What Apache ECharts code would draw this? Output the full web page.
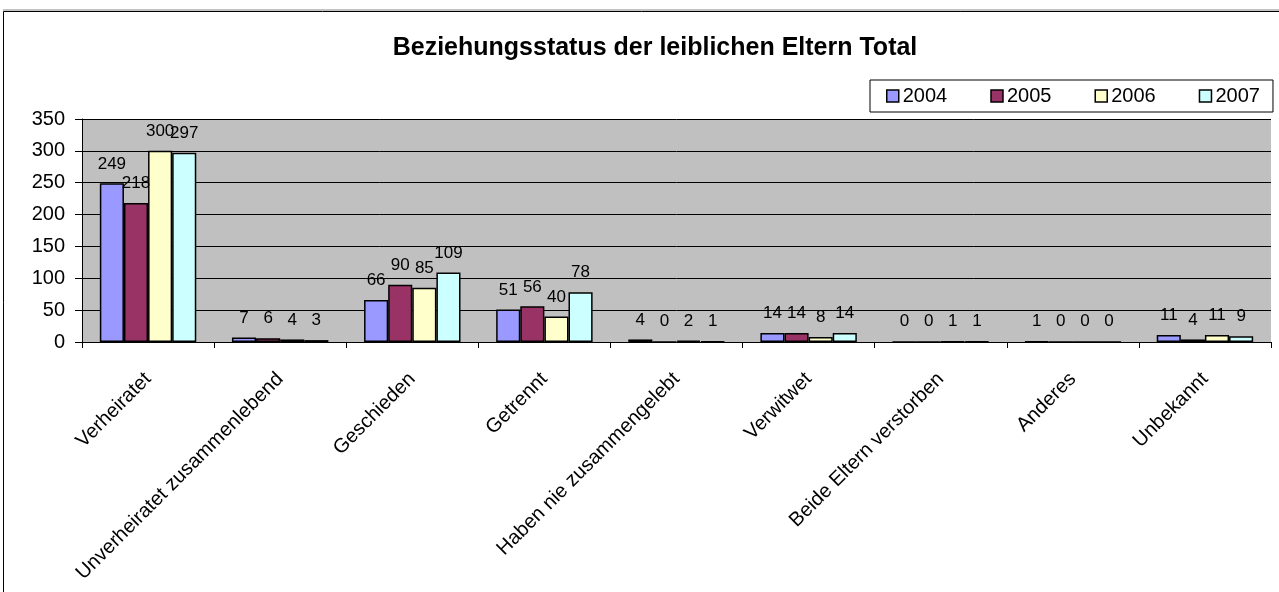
<!DOCTYPE html>
<html>
<head>
<meta charset="utf-8">
<script src="https://cdn.jsdelivr.net/npm/echarts@6/dist/echarts.min.js"></script>
<style>
  html, body { margin: 0; padding: 0; background: #fff; }
  #chart { width: 1279px; height: 592px; }
</style>
</head>
<body>
<div id="chart"></div>
<script>
var categories = ['Verheiratet', 'Unverheiratet zusammenlebend', 'Geschieden', 'Getrennt',
  'Haben nie zusammengelebt', 'Verwitwet', 'Beide Eltern verstorben', 'Anderes', 'Unbekannt'];
var years = ['2004', '2005', '2006', '2007'];
var values2004 = [249, 7, 66, 51, 4, 14, 0, 1, 11];
var values2005 = [218, 6, 90, 56, 0, 14, 0, 0, 4];
var values2006 = [300, 4, 85, 40, 2, 8, 1, 0, 11];
var values2007 = [297, 3, 109, 78, 1, 14, 1, 0, 9];
var yTicks = [0, 350, 50];

var colors = ['#9999ff', '#993366', '#ffffcc', '#ccffff'];
var font = '"Liberation Sans", Arial, sans-serif';

function makeSeries(name, data, color) {
    return {
        name: name,
        type: 'bar',
        data: data,
        barGap: '0%',
        barCategoryGap: '27%',
        itemStyle: { color: color, borderColor: '#000', borderWidth: 1.5 },
        label: {
            show: true,
            position: 'top',
            distance: 11,
            color: '#000',
            fontFamily: font,
            fontSize: 17
        }
    };
}

var myChart = echarts.init(document.getElementById('chart'));
myChart.setOption({
    animation: false,
    textStyle: { fontFamily: font },
    title: {
        text: 'Beziehungsstatus der leiblichen Eltern Total',
        left: 650,
        textAlign: 'center',
        top: 31,
        textStyle: { fontSize: 25, fontWeight: 'bold', color: '#000', fontFamily: font }
    },
    legend: {
        left: 870,
        top: 80,
        padding: [6, 13, 6, 16],
        backgroundColor: '#fff',
        borderColor: '#000',
        borderWidth: 1,
        itemWidth: 12,
        itemHeight: 12,
        itemGap: 43,
        icon: 'rect',
        itemStyle: { borderColor: '#000', borderWidth: 1.5 },
        textStyle: { fontSize: 20, color: '#000', fontFamily: font, padding: [0, 0, 0, -1] },
        data: years
    },
    graphic: [{
        type: 'rect',
        shape: { x: 3.5, y: 11.5, width: 1290, height: 600 },
        style: { fill: 'none', stroke: '#000', lineWidth: 1 },
        z: -1
    }, {
        type: 'line',
        shape: { x1: 3, y1: 10, x2: 1279, y2: 10 },
        style: { stroke: '#888', lineWidth: 1 },
        z: -1
    }],
    grid: {
        left: 82,
        right: 8,
        top: 119,
        bottom: 250,
        show: true,
        backgroundColor: '#c0c0c0',
        borderWidth: 0
    },
    xAxis: {
        type: 'category',
        data: categories,
        axisLine: { lineStyle: { color: '#000', width: 1 } },
        axisTick: { show: true, length: 6, lineStyle: { color: '#000' } },
        axisLabel: {
            rotate: 45,
            interval: 0,
            color: '#000',
            fontSize: 20,
            fontFamily: font,
            margin: 34
        }
    },
    yAxis: {
        type: 'value',
        min: yTicks[0],
        max: yTicks[1],
        interval: yTicks[2],
        axisLine: { show: true, lineStyle: { color: '#000', width: 1 } },
        axisTick: { show: true, length: 7, lineStyle: { color: '#000' } },
        axisLabel: { color: '#000', fontSize: 20, fontFamily: font, margin: 17 },
        splitLine: { show: true, lineStyle: { color: '#000', width: 1 } }
    },
    series: [
        makeSeries(years[0], values2004, colors[0]),
        makeSeries(years[1], values2005, colors[1]),
        makeSeries(years[2], values2006, colors[2]),
        makeSeries(years[3], values2007, colors[3])
    ]
});
</script>
</body>
</html>
